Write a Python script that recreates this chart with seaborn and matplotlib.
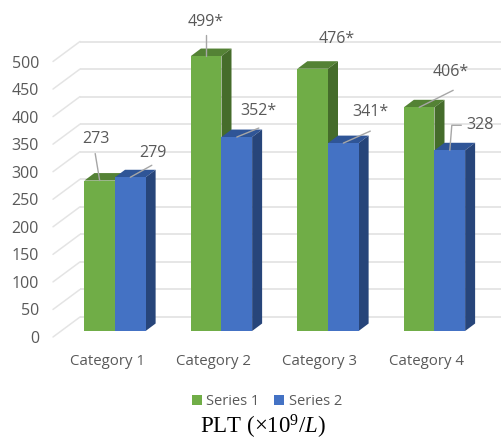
import matplotlib
matplotlib.use("Agg")
import matplotlib.pyplot as plt
from matplotlib.patches import Polygon
from matplotlib.transforms import ScaledTranslation
import pandas as pd
import seaborn as sns

categories = ["Category 1", "Category 2", "Category 3", "Category 4"]
series_names = ["Series 1", "Series 2"]
series_1 = [273, 499, 476, 406]
series_2 = [279, 352, 341, 328]
starred_1 = [False, True, True, True]
starred_2 = [False, True, True, False]
y_ticks = [0, 50, 100, 150, 200, 250, 300, 350, 400, 450, 500]

FRONT = {"Series 1": "#70ad47", "Series 2": "#4472c4"}
TOP = {"Series 1": "#548235", "Series 2": "#2f5597"}
SIDE = {"Series 1": "#456c2b", "Series 2": "#27457a"}
GREY = "#595959"
GRID = "#e4e4e4"
LEADER = "#a6a6a6"
DPI = 100
W, H = 502, 443
# Oblique projection of the pseudo-3D bars, in pixels
DEPTH_X, DEPTH_Y = 10, 7.5

sns.set_theme(style="white")
plt.rcParams["font.family"] = ["Open Sans", "DejaVu Sans"]
plt.rcParams["mathtext.fontset"] = "custom"
plt.rcParams["mathtext.rm"] = "Liberation Serif"
plt.rcParams["mathtext.it"] = "Liberation Serif:italic"

df = pd.DataFrame({
    "category": categories * 2,
    "series": [series_names[0]] * 4 + [series_names[1]] * 4,
    "value": series_1 + series_2,
})

fig = plt.figure(figsize=(W / DPI, H / DPI), dpi=DPI)
left, right, base, top = 53, 500, 331, 55.5
ax = fig.add_axes([left / W, 1 - base / H, (right - left) / W, (base - top) / H])

sns.barplot(data=df, x="category", y="value", hue="series", order=categories,
            hue_order=series_names, palette=FRONT, width=0.575, gap=0,
            saturation=1, errorbar=None, legend=False, zorder=3, linewidth=0, ax=ax)

step = 106.5
ax.set_xlim((left - 115) / step, (right - 115) / step)
ax.set_ylim(0, 500)
ax.set_xlabel("")
ax.set_ylabel("")
sns.despine(ax=ax, left=True, bottom=True, top=True, right=True)


def shifted(dx, dy):
    """Data transform displaced by a pixel offset (dy positive downwards)."""
    return ax.transData + ScaledTranslation(dx / DPI, -dy / DPI, fig.dpi_scale_trans)


# Back wall gridlines with their receding floor segments
xmin, xmax = ax.get_xlim()
for v in y_ticks:
    ax.plot([xmin, xmax], [v, v], transform=shifted(27, -14), color=GRID, lw=1.3,
            zorder=1, clip_on=False, solid_capstyle="butt")
    a = shifted(0, 6).transform((xmin, v))
    b = shifted(27, -14).transform((xmin, v))
    ax.plot([a[0], b[0]], [a[1], b[1]], transform=None, color=GRID, lw=1.1,
            zorder=1, clip_on=False)

# Top and side faces for each front bar
display = ax.transData
for name, container, z in zip(series_names, ax.containers, (2, 2.5)):
    for bar in container:
        x0, x1 = bar.get_x(), bar.get_x() + bar.get_width()
        h = bar.get_height()
        back = shifted(DEPTH_X, -DEPTH_Y)
        p0, p1 = display.transform((x0, h)), display.transform((x1, h))
        q0, q1 = back.transform((x0, h)), back.transform((x1, h))
        p2, q2 = display.transform((x1, 0)), back.transform((x1, 0))
        ax.add_patch(Polygon([p0, p1, q1, q0], closed=True, transform=None,
                             facecolor=TOP[name], edgecolor="none", zorder=z, clip_on=False))
        ax.add_patch(Polygon([p1, q1, q2, p2], closed=True, transform=None,
                             facecolor=SIDE[name], edgecolor="none", zorder=z, clip_on=False))

# Value labels: text offset and leader path, in pixels from the top-centre of the front face
label_style = {
    (0, 0): ((-3.5, -42), [(-4.5, -27), (0, 0)]),
    (0, 1): ((22.5, -24), [(21.5, -12), (0, 0)]),
    (1, 0): ((0, -34), [(0, -21), (0, 0)]),
    (1, 1): ((22, -26), [(22, -9), (0, 0)]),
    (2, 0): ((24, -30), None),
    (2, 1): ((27, -31), [(27, -12), (0, 0)]),
    (3, 0): ((32, -35), [(34, -17), (0, 0)]),
    (3, 1): ((30, -25), [(11.5, -25), (2, -25), (0, 0)]),
}
for s, (container, flags) in enumerate(zip(ax.containers, (starred_1, starred_2))):
    for c, (bar, flag) in enumerate(zip(container, flags)):
        cx = bar.get_x() + bar.get_width() / 2
        h = bar.get_height()
        (tx, ty), path = label_style[(c, s)]
        ax.text(cx, h, f"{h:.0f}" + ("*" if flag else ""), transform=shifted(tx, ty),
                ha="center", va="center", fontsize=11.5, color=GREY, zorder=5, clip_on=False)
        if path:
            pts = [shifted(dx, dy).transform((cx, h)) for dx, dy in path]
            ax.plot([p[0] for p in pts], [p[1] for p in pts], transform=None,
                    color=LEADER, lw=1, zorder=4, clip_on=False)

# Ticks: value labels sit level with the front of the floor segments
ax.set_yticks(y_ticks)
ax.tick_params(axis="y", length=0, pad=10, labelsize=11.5, labelcolor=GREY)
ax.tick_params(axis="x", length=0, pad=16.5, labelsize=10.8, labelcolor=GREY)
y_shift = ScaledTranslation(0, -6 / DPI, fig.dpi_scale_trans)
for lab in ax.get_yticklabels():
    lab.set_transform(lab.get_transform() + y_shift)
x_shift = ScaledTranslation(-8 / DPI, 0, fig.dpi_scale_trans)
for lab in ax.get_xticklabels():
    lab.set_transform(lab.get_transform() + x_shift)

handles = [plt.Rectangle((0, 0), 1, 1, facecolor=FRONT[n], edgecolor="none") for n in series_names]
fig.legend(handles, series_names, ncol=2, loc="center", bbox_to_anchor=(267 / W, 1 - 401.5 / H),
           frameon=False, fontsize=10.5, labelcolor=GREY, handlelength=0.7, handleheight=0.7,
           handletextpad=0.3, columnspacing=1.0, borderpad=0)

fig.text(263.5 / W, 1 - 434 / H, r"PLT (×10$^{9}$/$\mathit{L}$)", ha="center", va="baseline",
         fontsize=16.5, color="black", family="Liberation Serif")

fig.savefig("out.png", dpi=DPI, facecolor="white")
